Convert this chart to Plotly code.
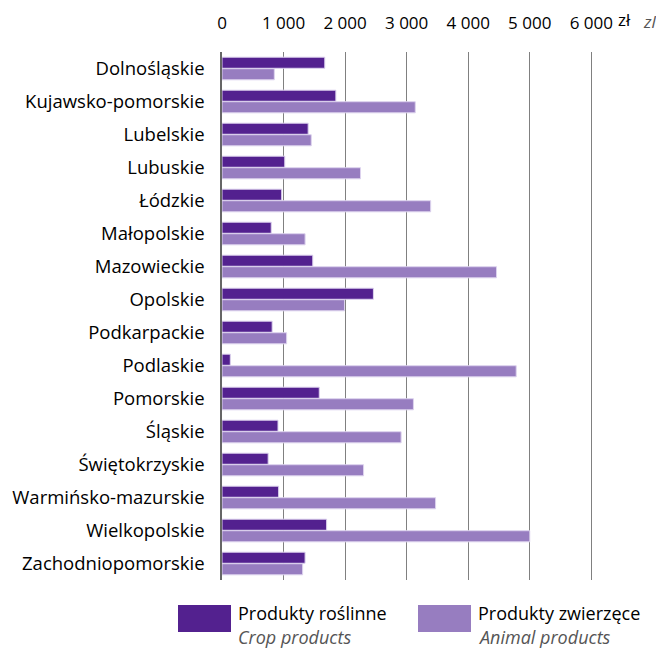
import plotly.graph_objects as go

regions = ["Dolnośląskie", "Kujawsko-pomorskie", "Lubelskie", "Lubuskie", "Łódzkie",
           "Małopolskie", "Mazowieckie", "Opolskie", "Podkarpackie", "Podlaskie",
           "Pomorskie", "Śląskie", "Świętokrzyskie", "Warmińsko-mazurskie",
           "Wielkopolskie", "Zachodniopomorskie"]
crop = [1670, 1850, 1400, 1020, 970, 800, 1475, 2460, 815, 135, 1580, 910, 750, 920, 1700, 1350]
animal = [850, 3140, 1450, 2250, 3390, 1350, 4460, 1990, 1050, 4780, 3110, 2910, 2300, 3470, 5000, 1310]
tick_vals = [0, 1000, 2000, 3000, 4000, 5000, 6000]
tick_text = ["0", "1 000", "2 000", "3 000", "4 000", "5 000", "6 000"]
series_names = ["Produkty roślinne", "Produkty zwierzęce"]
series_names_en = ["Crop products", "Animal products"]
colors = ["#53218f", "#977dc0"]

# page offset from default body margin
OFF = 8
W, H = 664 - OFF, 649 - OFF
# desired plot area in page pixels: x 222..595, y 52..580
L, T = 222 - OFF, 52 - OFF
R = W - (595 - OFF)
B = H - (580 - OFF)
PW, PH = W - L - R, H - T - B

def px(x):
    return (x - OFF - L) / PW

def py(y):
    return (H - B - (y - OFF)) / PH

FONT = "Open Sans"
FS = 18

fig = go.Figure()
for vals, name, col in zip([crop, animal], series_names, colors):
    fig.add_trace(go.Bar(
        y=regions, x=vals, name=name, orientation="h",
        marker=dict(color=col, line=dict(color="#ddd3ee", width=1)),
        showlegend=False,
    ))

fig.update_layout(
    width=W, height=H,
    margin=dict(l=L, r=R, t=T, b=B),
    paper_bgcolor="white", plot_bgcolor="white",
    barmode="group", bargap=0.3, bargroupgap=0.04,
    font=dict(family=FONT, size=FS, color="black"),
    xaxis=dict(side="top", range=[0, 6060], tickvals=tick_vals, ticktext=tick_text,
               showgrid=True, gridcolor="#808080", gridwidth=1,
               zeroline=False, showline=False, ticks="", automargin=False,
               ticklabelstandoff=19,
               tickfont=dict(size=17, family=FONT), fixedrange=True),
    yaxis=dict(autorange="reversed", showgrid=False, showline=True, linecolor="#666666",
               linewidth=1.5, ticks="", ticklabelstandoff=12, automargin=False,
               tickfont=dict(size=18.5, family=FONT)),
)

def note(x, y, text, color="black", xanchor="center"):
    fig.add_annotation(x=px(x), y=py(y), xref="paper", yref="paper", text=text,
                       xanchor=xanchor, yanchor="middle", showarrow=False,
                       font=dict(size=FS if xanchor == "left" else 17, family=FONT, color=color))

# unit labels
note(624, 19, "zł")
note(650, 21, "<i>zl</i>", color="#555555")

# custom legend
for (x0, x1, tx), col, name, en in zip([(178, 231, 238), (418, 471, 478)], colors,
                                        series_names, series_names_en):
    fig.add_shape(type="rect", xref="paper", yref="paper",
                  x0=px(x0), x1=px(x1), y0=py(632), y1=py(605),
                  fillcolor=col, line=dict(width=0))
    note(tx - 2, 613, name, xanchor="left")
    note(tx - 2, 637, "<i>" + en + "</i>", color="#555555", xanchor="left")

fig.write_html("out.html")
